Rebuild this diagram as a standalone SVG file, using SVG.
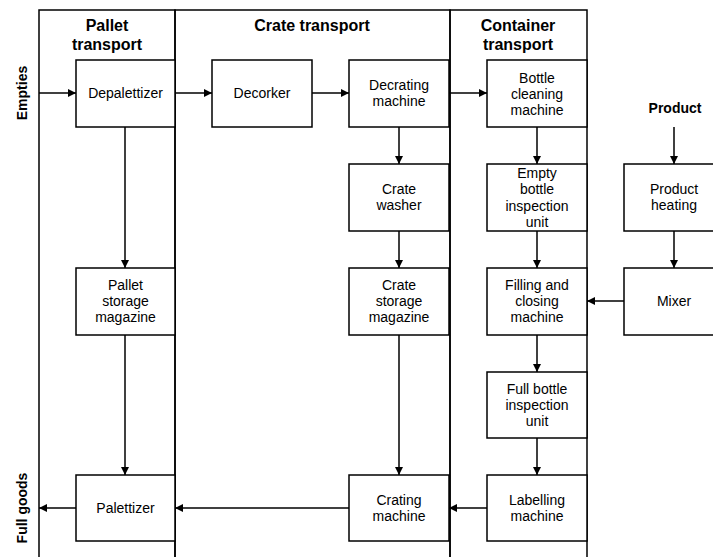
<svg xmlns="http://www.w3.org/2000/svg" width="713" height="557" viewBox="0 0 713 557">
<style>
.lane{fill:none;stroke:#000;stroke-width:1.5}
.box{fill:#fff;stroke:#000;stroke-width:1.5}
.t{font-family:"Liberation Sans",Arial,sans-serif;font-size:14px;text-anchor:middle;fill:#000}
.h{font-family:"Liberation Sans",Arial,sans-serif;font-size:16px;font-weight:bold;text-anchor:middle;fill:#000}
.b{font-family:"Liberation Sans",Arial,sans-serif;font-size:14px;font-weight:bold;text-anchor:middle;fill:#000}
.c{fill:none;stroke:#000;stroke-width:1.5}
</style>
<defs>
<marker id="ah" markerUnits="userSpaceOnUse" markerWidth="10" markerHeight="10" refX="8" refY="4.5" orient="auto">
<path d="M0,0.5 L8,4.5 L0,8.5 z" fill="#000"/>
</marker>
</defs>
<rect width="713" height="557" fill="#fff"/>
<g id="lanes">
<g id="lane-pallet"><rect class="lane" x="39" y="10" width="136" height="600"/><text class="h" x="107" y="31">Pallet</text><text class="h" x="107" y="50">transport</text></g>
<g id="lane-crate"><rect class="lane" x="175" y="10" width="275" height="600"/><text class="h" x="312" y="31">Crate transport</text></g>
<g id="lane-container"><rect class="lane" x="450" y="10" width="137" height="600"/><text class="h" x="518" y="31">Container</text><text class="h" x="518" y="50">transport</text></g>
</g>
<g id="labels">
<text id="empties" class="b" transform="translate(27,93) rotate(-90)">Empties</text>
<text id="fullgoods" class="b" transform="translate(27,508) rotate(-90)">Full goods</text>
<text id="product" class="b" x="675" y="113">Product</text>
</g>
<g id="connectors">
<path class="c" d="M39,93 H76" marker-end="url(#ah)"/>
<path class="c" d="M175,93 H212" marker-end="url(#ah)"/>
<path class="c" d="M312,93 H349" marker-end="url(#ah)"/>
<path class="c" d="M449,93 H487" marker-end="url(#ah)"/>
<path class="c" d="M125,127 V268" marker-end="url(#ah)"/>
<path class="c" d="M125,335 V475" marker-end="url(#ah)"/>
<path class="c" d="M399,127 V164" marker-end="url(#ah)"/>
<path class="c" d="M399,231 V268" marker-end="url(#ah)"/>
<path class="c" d="M399,335 V475" marker-end="url(#ah)"/>
<path class="c" d="M537,127 V164" marker-end="url(#ah)"/>
<path class="c" d="M537,231 V268" marker-end="url(#ah)"/>
<path class="c" d="M537,335 V372" marker-end="url(#ah)"/>
<path class="c" d="M537,438 V475" marker-end="url(#ah)"/>
<path class="c" d="M674,127 V164" marker-end="url(#ah)"/>
<path class="c" d="M674,231 V268" marker-end="url(#ah)"/>
<path class="c" d="M624,301 H587" marker-end="url(#ah)"/>
<path class="c" d="M487,508 H449" marker-end="url(#ah)"/>
<path class="c" d="M349,508 H175" marker-end="url(#ah)"/>
<path class="c" d="M76,508 H39" marker-end="url(#ah)"/>
</g>
<g id="depalettizer"><rect class="box" x="76" y="60" width="99" height="67"/><text class="t" x="125.5" y="98">Depalettizer</text></g>
<g id="decorker"><rect class="box" x="212" y="60" width="100" height="67"/><text class="t" x="262" y="98">Decorker</text></g>
<g id="decrating"><rect class="box" x="349" y="60" width="100" height="67"/><text class="t" x="399" y="90">Decrating<tspan x="399" dy="16">machine</tspan></text></g>
<g id="bottle-cleaning"><rect class="box" x="487" y="60" width="100" height="67"/><text class="t" x="537" y="83">Bottle<tspan x="537" dy="16">cleaning</tspan><tspan x="537" dy="16">machine</tspan></text></g>
<g id="crate-washer"><rect class="box" x="349" y="164" width="100" height="67"/><text class="t" x="399" y="194">Crate<tspan x="399" dy="16">washer</tspan></text></g>
<g id="empty-bottle"><rect class="box" x="487" y="164" width="100" height="67"/><text class="t" x="537" y="178">Empty<tspan x="537" dy="16.3">bottle</tspan><tspan x="537" dy="16.3">inspection</tspan><tspan x="537" dy="16.3">unit</tspan></text></g>
<g id="product-heating"><rect class="box" x="624" y="164" width="100" height="67"/><text class="t" x="674" y="194">Product<tspan x="674" dy="16">heating</tspan></text></g>
<g id="pallet-storage"><rect class="box" x="76" y="268" width="99" height="67"/><text class="t" x="125.5" y="290">Pallet<tspan x="125.5" dy="16">storage</tspan><tspan x="125.5" dy="16">magazine</tspan></text></g>
<g id="crate-storage"><rect class="box" x="349" y="268" width="100" height="67"/><text class="t" x="399" y="290">Crate<tspan x="399" dy="16">storage</tspan><tspan x="399" dy="16">magazine</tspan></text></g>
<g id="filling"><rect class="box" x="487" y="268" width="100" height="67"/><text class="t" x="537" y="290">Filling and<tspan x="537" dy="16">closing</tspan><tspan x="537" dy="16">machine</tspan></text></g>
<g id="mixer"><rect class="box" x="624" y="268" width="100" height="67"/><text class="t" x="674" y="306">Mixer</text></g>
<g id="full-bottle"><rect class="box" x="487" y="372" width="100" height="66"/><text class="t" x="537" y="394">Full bottle<tspan x="537" dy="16">inspection</tspan><tspan x="537" dy="16">unit</tspan></text></g>
<g id="palettizer"><rect class="box" x="76" y="475" width="99" height="66"/><text class="t" x="125.5" y="513">Palettizer</text></g>
<g id="crating"><rect class="box" x="349" y="475" width="100" height="66"/><text class="t" x="399" y="505">Crating<tspan x="399" dy="16">machine</tspan></text></g>
<g id="labelling"><rect class="box" x="487" y="475" width="100" height="66"/><text class="t" x="537" y="505">Labelling<tspan x="537" dy="16">machine</tspan></text></g>
</svg>
